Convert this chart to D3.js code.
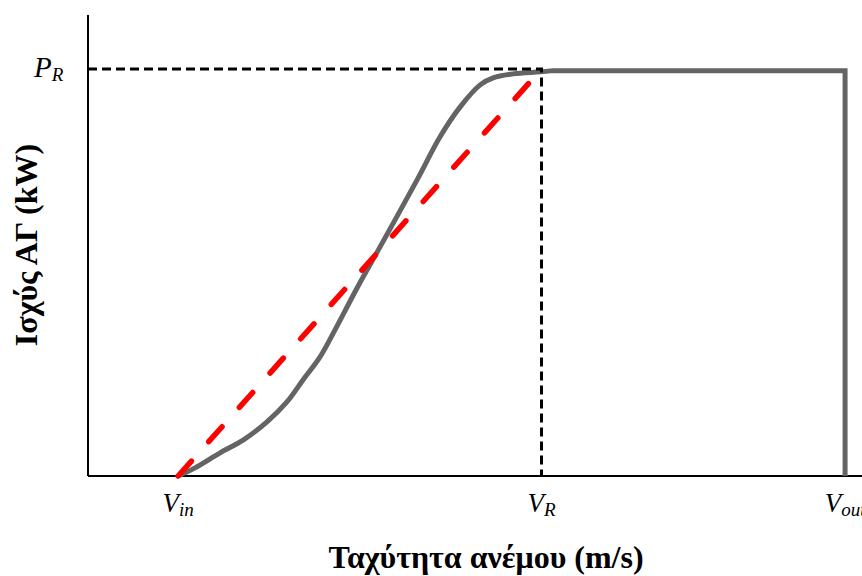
<!DOCTYPE html>
<html>
<head>
<meta charset="utf-8">
<script src="https://cdn.jsdelivr.net/npm/d3@7"></script>
<style>
  body { margin: 0; background: #fff; }
  svg { display: block; font-family: "Liberation Serif", "Times New Roman", serif; }
</style>
</head>
<body>
<svg id="chart"></svg>
<script>
// wind speeds (m/s, schematic) and power (% of rated)
var vIn = 2.98, vRated = 15, vOut = 25.04;
var ratedPower = 100;

var curveSpeed = [2.98, 3.54, 4.37, 5.13, 5.92, 6.58, 7.11, 7.67, 8.17, 8.90, 9.66, 10.88, 11.64, 12.31, 12.97, 13.40, 14.06, 14.95, 15.38];
var curvePower = [0, 2.0, 5.7, 8.8, 13.3, 18.2, 23.6, 29.2, 35.9, 46.2, 56.3, 72.7, 83.3, 90.7, 96.1, 97.8, 98.8, 99.3, 99.6];
var flatPower = 99.6;

var tickSpeeds = [vIn, vRated, vOut];
var tickNames = [["V", "in"], ["V", "R"], ["V", "out"]];

var width = 862, height = 576;
var left = 88, bottom = 476;

var svg = d3.select("#chart")
    .attr("width", width)
    .attr("height", height);

var x = d3.scaleLinear().domain([0, 25.6]).range([left, 862]);
var y = d3.scaleLinear().domain([0, 100]).range([bottom, 69]);

// axes (plain lines, no ticks)
svg.append("line")
    .attr("x1", left).attr("x2", left)
    .attr("y1", 15).attr("y2", bottom)
    .attr("stroke", "#000").attr("stroke-width", 2);
svg.append("line")
    .attr("x1", left).attr("x2", width)
    .attr("y1", bottom).attr("y2", bottom)
    .attr("stroke", "#000").attr("stroke-width", 2);

// power curve: smooth rise, then flat until cut-out, then drop
var pts = curveSpeed.map(function (d, i) { return [d, curvePower[i]]; });
var line = d3.line()
    .x(function (d) { return x(d[0]); })
    .y(function (d) { return y(d[1]); })
    .curve(d3.curveCatmullRom.alpha(0.5));

svg.append("path")
    .attr("d", line(pts) +
        "L" + x(vOut) + "," + y(flatPower) +
        "L" + x(vOut) + "," + y(0))
    .attr("fill", "none")
    .attr("stroke", "#646464")
    .attr("stroke-width", 5)
    .attr("stroke-linejoin", "miter");

// rated guides
svg.append("path")
    .attr("d", "M" + x(0) + "," + y(ratedPower) + "L" + x(vRated) + "," + y(ratedPower) + "L" + x(vRated) + "," + y(0))
    .attr("fill", "none")
    .attr("stroke", "#000")
    .attr("stroke-width", 3)
    .attr("stroke-dasharray", "9,5");

// linear approximation
svg.append("line")
    .attr("x1", x(vIn)).attr("y1", y(0))
    .attr("x2", x(vRated)).attr("y2", y(ratedPower))
    .attr("stroke", "#ff0000")
    .attr("stroke-width", 5.5)
    .attr("stroke-linecap", "round")
    .attr("stroke-dasharray", "20,26");

// x tick labels
tickSpeeds.forEach(function (s, i) {
    var t = svg.append("text")
        .attr("x", x(s))
        .attr("y", 512)
        .attr("text-anchor", "middle")
        .attr("font-style", "italic")
        .attr("font-size", 27);
    t.append("tspan").text(tickNames[i][0]);
    t.append("tspan").attr("font-size", 19).attr("dy", 4).text(tickNames[i][1]);
});

// y tick label
var pr = svg.append("text")
    .attr("x", 34)
    .attr("y", y(ratedPower) + 8)
    .attr("font-style", "italic")
    .attr("font-size", 29);
pr.append("tspan").text("P");
pr.append("tspan").attr("font-size", 19).attr("dy", 4).text("R");

// axis titles
svg.append("text")
    .attr("x", 486)
    .attr("y", 568)
    .attr("text-anchor", "middle")
    .attr("font-weight", "bold")
    .attr("font-size", 32)
    .text("Ταχύτητα ανέμου (m/s)");

svg.append("text")
    .attr("transform", "translate(37,245) rotate(-90)")
    .attr("text-anchor", "middle")
    .attr("font-weight", "bold")
    .attr("font-size", 32)
    .text("Ισχύς ΑΓ (kW)");
</script>
</body>
</html>
